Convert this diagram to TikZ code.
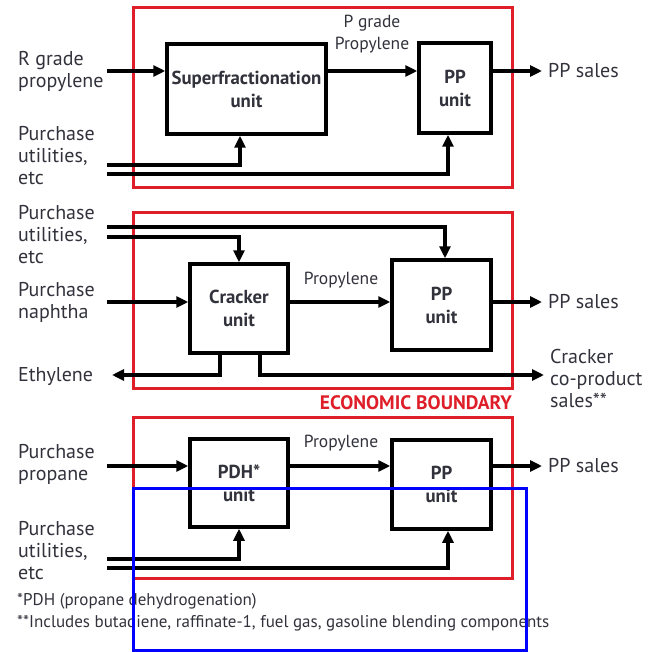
\documentclass[tikz,border=0pt]{standalone}
\usepackage{fontspec}
\setmainfont{PT Sans}
\usetikzlibrary{arrows.meta,positioning,calc}
\definecolor{txtgray}{RGB}{50,50,60}
\definecolor{bndred}{RGB}{222,30,40}
\definecolor{markblue}{RGB}{0,0,255}
\tikzset{
  unit/.style={draw,line width=3.5pt,fill=white,align=center,text=txtgray,
    font=\fontsize{18.8}{23}\selectfont\bfseries,inner sep=0pt},
  lbl/.style={anchor=west,align=left,text=txtgray,inner sep=1pt,
    font=\fontsize{20}{22}\selectfont},
  outlbl/.style={lbl,inner xsep=6pt},
  flowlbl/.style={align=center,text=txtgray,inner sep=0pt,
    font=\fontsize{17.5}{22}\selectfont},
  note/.style={anchor=west,text=txtgray,inner sep=0pt,
    font=\fontsize{17}{20}\selectfont},
  flow/.style={line width=3.5pt,-{Triangle[length=12pt,width=11pt]}},
  boundary/.style={draw=bndred,line width=3pt},
}
\begin{document}
\begin{tikzpicture}[x=1pt,y=-1pt,line join=miter]
  \useasboundingbox (0,0) rectangle (652,652);

  % economic boundaries round each route
  \draw[boundary] (133,8) rectangle (512,188);
  \draw[boundary] (133,212) rectangle (512,388);
  \draw[boundary] (133,417) rectangle (512,578);
  \node[anchor=east,text=bndred,inner sep=0pt,
    font=\fontsize{19.5}{22}\selectfont\bfseries] (eb) at (512,403) {ECONOMIC BOUNDARY};

  % route 1: superfractionation of R grade propylene
  \node[unit,minimum width=159pt,minimum height=90pt] (sf) at (246.5,89) {Superfractionation\\unit};
  \node[unit,minimum width=72pt,minimum height=90pt] (pp1) at (455,88) {PP\\unit};
  \node[lbl] (rg) at (17,71) {R grade\\propylene};
  \node[lbl] (pu1) at (17,156) {Purchase\\utilities,\\etc};
  \node[outlbl] (ps1) at (542,71) {PP sales};
  \node[flowlbl] (pg) at (372,34) {P grade\\Propylene};
  \coordinate (rgin) at (107,71);
  \coordinate (ut1a) at (107,165);
  \coordinate (ut1b) at (107,174);
  \draw[flow] (rgin) -- (rgin -| sf.west);
  \draw[flow] (sf.east |- rgin) -- (pp1.west |- rgin);
  \draw[flow] (pp1.east |- rgin) -- (ps1.west);
  \draw[flow] (ut1a) -| ([xshift=-6.5pt]sf.south);
  \draw[flow] (ut1b) -| ([xshift=-7pt]pp1.south);

  % route 2: naphtha cracker
  \node[unit,minimum width=98pt,minimum height=89pt] (cr) at (239,308.5) {Cracker\\unit};
  \node[unit,minimum width=99pt,minimum height=90pt] (pp2) at (441.5,305) {PP\\unit};
  \node[lbl] (pu2) at (17,235) {Purchase\\utilities,\\etc};
  \node[lbl] (pn) at (17,302) {Purchase\\naphtha};
  \node[lbl] (eth) at (17,377) {Ethylene};
  \node[outlbl] (ps2) at (542,302) {PP sales};
  \node[outlbl] (cps) at (544,378) {Cracker\\co-product\\sales**};
  \node[flowlbl] (pr2) at (341,280) {Propylene};
  \coordinate (ut2a) at (107,227);
  \coordinate (ut2b) at (107,237);
  \coordinate (npin) at (107,302);
  \coordinate (ethout) at (112,375);
  \draw[flow] (ut2a) -| ([xshift=3.5pt]pp2.north);
  \draw[flow] (ut2b) -| (cr.north);
  \draw[flow] (npin) -- (npin -| cr.west);
  \draw[flow] (cr.east |- npin) -- (pp2.west |- npin);
  \draw[flow] (pp2.east |- npin) -- (ps2.west);
  \draw[flow] ([xshift=-19pt]cr.south) |- (ethout);
  \draw[flow] ([xshift=21pt]cr.south) |- (cps.west |- ethout);

  % route 3: propane dehydrogenation
  \node[unit,minimum width=98pt,minimum height=88pt] (pdh) at (239,483) {PDH*\\unit};
  \node[unit,minimum width=99pt,minimum height=89pt] (pp3) at (441.5,484.5) {PP\\unit};
  \node[lbl] (ppr) at (17,464) {Purchase\\propane};
  \node[lbl] (pu3) at (17,551) {Purchase\\utilities,\\etc};
  \node[outlbl] (ps3) at (542,466) {PP sales};
  \node[flowlbl] (pr3) at (341,443) {Propylene};
  \coordinate (prin) at (107,466);
  \coordinate (ut3a) at (107,559);
  \coordinate (ut3b) at (107,568);
  \draw[flow] (prin) -- (prin -| pdh.west);
  \draw[flow] (pdh.east |- prin) -- (pp3.west |- prin);
  \draw[flow] (pp3.east |- prin) -- (ps3.west);
  \draw[flow] (ut3a) -| (pdh.south);
  \draw[flow] (ut3b) -| ([xshift=6.5pt]pp3.south);

  % footnotes
  \node[note] (fn1) at (17,601) {*PDH (propane dehydrogenation)};
  \node[note] (fn2) at (17,623) {**Includes butadiene, raffinate-1, fuel gas, gasoline blending components};

  % highlight frame
  \draw[markblue,line width=3pt] (133,488) rectangle (526,650);
\end{tikzpicture}
\end{document}
